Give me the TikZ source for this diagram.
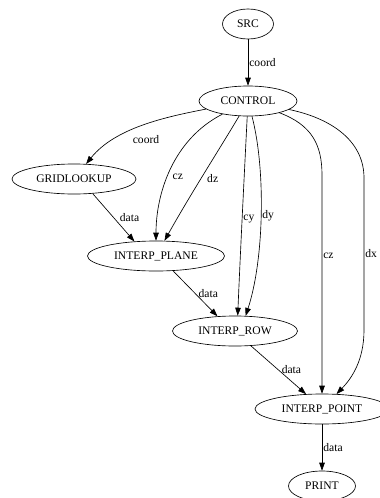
\documentclass[tikz,border=0pt]{standalone}
\usepackage{fontspec}
\setmainfont{Liberation Serif}
\usepackage{tikz}
\usetikzlibrary{shapes.geometric,arrows.meta}
\tikzset{opnode/.style={shape=ellipse,draw,inner sep=0pt,minimum height=30pt,font=\fontsize{11.6pt}{13pt}\selectfont}}
\tikzset{flowlabel/.style={anchor=west,inner sep=1pt,font=\fontsize{11.6pt}{13pt}\selectfont}}

\begin{document}
\begin{tikzpicture}[x=1pt,y=1pt,line width=0.65pt,>={Triangle[length=8pt,width=5.6pt]}]
		\useasboundingbox (0,0) rectangle (380,-498);
		%
		\node[opnode,minimum width=51pt] (src) at (248,-24) {SRC};
		\node[opnode,minimum width=98pt] (ctl) at (248,-101) {CONTROL};
		\node[opnode,minimum width=124pt] (grid) at (74,-179) {GRIDLOOKUP};
		\node[opnode,minimum width=137pt] (plane) at (156,-256) {INTERP\_PLANE};
		\node[opnode,minimum width=125pt] (row) at (235,-331) {INTERP\_ROW};
		\node[opnode,minimum width=134pt] (pt) at (322,-409) {INTERP\_POINT};
		\node[opnode,minimum width=67pt] (prt) at (322,-486) {PRINT};
		%
		\draw [->] (src) -- node[flowlabel] {coord} (ctl);
		\draw [->] (ctl) .. controls (165,-117) and (115,-128) .. node[flowlabel,anchor=north west,xshift=-10pt,yshift=-8pt] {coord} (grid);
		\draw [->] (ctl) .. controls (172,-140) and (156,-195) .. node[flowlabel,pos=.55,xshift=4pt] {cz} (plane);
		\draw [->] (ctl) .. controls (222,-145) and (190,-195) .. node[flowlabel,pos=.55,xshift=5pt] {dz} (plane);
		\draw [->] (ctl) .. controls (244,-180) and (240,-260) .. node[flowlabel] {cy} (row.80);
		\draw [->] (ctl) .. controls (266,-170) and (264,-260) .. node[flowlabel] {dy} (row.55);
		\draw [->] (ctl) .. controls (312,-125) and (322,-145) .. (322,-175) -- node[flowlabel,pos=.37] {cz} (pt);
		\draw [->] (ctl) .. controls (330,-118) and (364,-140) .. (364,-178) -- node[flowlabel] {dx} (364,-330) .. controls (364,-360) and (352,-378) .. (pt);
		%
		\draw [->] (grid.-38) -- node[flowlabel,xshift=5pt] {data} (plane.146);
		\draw [->] (plane.-41) -- node[flowlabel,xshift=2pt] {data} (row.140);
		\draw [->] (row.-43) -- node[flowlabel,xshift=2pt] {data} (pt.137);
		\draw [->] (pt) -- node[flowlabel] {data} (prt);
	\end{tikzpicture}
\end{document}
